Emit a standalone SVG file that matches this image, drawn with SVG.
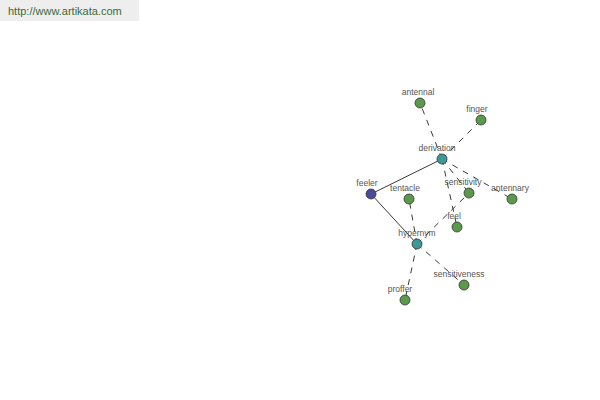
<svg xmlns="http://www.w3.org/2000/svg" width="600" height="400" viewBox="0 0 600 400">
<style>
.lbl{font-family:"Liberation Sans",Arial,sans-serif;font-size:8.5px;fill:#555;text-anchor:middle}
.n{stroke:#333;stroke-width:0.8}
.g{fill:#5a9a4a}
.t{fill:#3f9898}
.b{fill:#4a4a9a}
.e{stroke:#222;stroke-width:0.9;fill:none}
.d{stroke-dasharray:6,6}
</style>
<rect x="0" y="0" width="139" height="21" fill="#eeeeee"/>
<text x="8" y="15" font-family="'Liberation Sans',Arial,sans-serif" font-size="11" fill="#3a6a3a">http://www.artikata.com</text>
<g id="connectors">
<line class="e d" x1="442" y1="159" x2="420" y2="103"/>
<line class="e d" x1="442" y1="159" x2="481" y2="120"/>
<line class="e" x1="442" y1="159" x2="371" y2="194"/>
<line class="e d" x1="442" y1="159" x2="469" y2="193"/>
<line class="e d" x1="442" y1="159" x2="512" y2="199"/>
<line class="e d" x1="442" y1="159" x2="457" y2="227"/>
<line class="e" x1="371" y1="194" x2="417" y2="244"/>
<line class="e d" x1="417" y1="244" x2="409" y2="199"/>
<line class="e d" x1="417" y1="244" x2="469" y2="193"/>
<line class="e d" x1="417" y1="244" x2="464" y2="285"/>
<line class="e d" x1="417" y1="244" x2="405" y2="300"/>
</g>
<g id="antennal"><circle class="n g" cx="420" cy="103" r="5"/><text class="lbl" x="418" y="95">antennal</text></g>
<g id="finger"><circle class="n g" cx="481" cy="120" r="5"/><text class="lbl" x="477" y="112">finger</text></g>
<g id="derivation"><circle class="n t" cx="442" cy="159" r="5"/><text class="lbl" x="437" y="151">derivation</text></g>
<g id="feeler"><circle class="n b" cx="371" cy="194" r="5"/><text class="lbl" x="367" y="186">feeler</text></g>
<g id="tentacle"><circle class="n g" cx="409" cy="199" r="5"/><text class="lbl" x="405" y="191">tentacle</text></g>
<g id="sensitivity"><circle class="n g" cx="469" cy="193" r="5"/><text class="lbl" x="463" y="185">sensitivity</text></g>
<g id="antennary"><circle class="n g" cx="512" cy="199" r="5"/><text class="lbl" x="510" y="191">antennary</text></g>
<g id="feel"><circle class="n g" cx="457" cy="227" r="5"/><text class="lbl" x="454" y="219">feel</text></g>
<g id="hypernym"><circle class="n t" cx="417" cy="244" r="5"/><text class="lbl" x="417" y="236">hypernym</text></g>
<g id="sensitiveness"><circle class="n g" cx="464" cy="285" r="5"/><text class="lbl" x="459" y="277">sensitiveness</text></g>
<g id="proffer"><circle class="n g" cx="405" cy="300" r="5"/><text class="lbl" x="400" y="292">proffer</text></g>
</svg>
